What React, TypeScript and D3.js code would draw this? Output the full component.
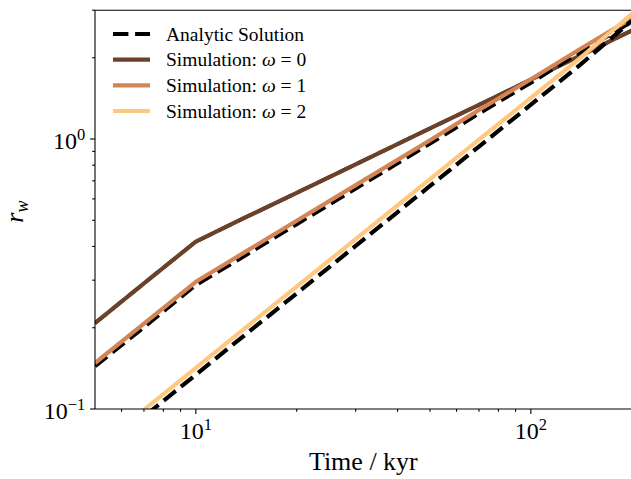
import React from "react";
import * as d3 from "d3";

const W = 631;
const H = 479;

// time in kyr
const times = [5, 7, 10, 14, 20, 30, 50, 70, 100, 140, 200];
// simulated wind-bubble radius r_w
const sim0 = [0.208, 0.292, 0.417, 0.511, 0.632, 0.806, 1.095, 1.338, 1.66, 2.03, 2.52];
const sim1 = [0.148, 0.207, 0.296, 0.381, 0.498, 0.675, 0.99, 1.28, 1.665, 2.15, 2.8];
const sim2 = [0.0709, 0.0993, 0.142, 0.199, 0.284, 0.426, 0.71, 0.994, 1.42, 1.99, 2.9];
// analytic solutions
const ana0 = [0.208, 0.292, 0.417, 0.511, 0.632, 0.806, 1.095, 1.338, 1.66, 2.03, 2.52];
const ana1 = [0.144, 0.201, 0.288, 0.37, 0.484, 0.656, 0.962, 1.244, 1.618, 2.09, 2.72];
const ana2 = [0.0669, 0.0937, 0.134, 0.188, 0.268, 0.402, 0.67, 0.938, 1.34, 1.878, 2.74];

const omegas = [0, 1, 2];
const colors = ["#6a422a", "#d48555", "#ffc77f"];
const xMajor = [10, 100];
const xMajorExp = ["1", "2"];
const xMinor = [6, 7, 8, 9, 20, 30, 40, 50, 60, 70, 80, 90, 200];
const yMajor = [0.1, 1];
const yMajorExp = ["\u22121", "0"];
const yMinor = [0.2, 0.3, 0.4, 0.5, 0.6, 0.7, 0.8, 0.9, 2, 3];
const xLabel = "Time / kyr";
const legendAnalytic = "Analytic Solution";
const legendSim = "Simulation: ";

const FONT = "'Liberation Serif', 'Times New Roman', serif";

export default function App() {
  const left = 95;
  const right = 631.7;
  const top = 10.2;
  const bottom = 409;

  const x = d3.scaleLog().domain([5, 200]).range([left, right]);
  const y = d3.scaleLog().domain([0.1, 3]).range([bottom, top]);

  const line = d3
    .line<number>()
    .x((_, i) => x(times[i]))
    .y((d) => y(d));

  const sims = [sim0, sim1, sim2];
  const anas = [ana0, ana1, ana2];

  const lw = 4.17;
  const dash = "15.4 6.7";
  const tickW = 1.1;
  const majLen = 4.9;
  const minLen = 2.8;

  const legendRows = [34, 59.7, 85.3, 111];

  return (
    <svg
      width={W}
      height={H}
      style={{ position: "absolute", left: 0, top: 0, background: "#fff" }}
      fontFamily={FONT}
    >
      <defs>
        <clipPath id="plot">
          <rect x={left} y={top} width={right - left} height={bottom - top} />
        </clipPath>
      </defs>
      <rect x={0} y={0} width={W} height={H} fill="#fff" />

      <g clipPath="url(#plot)">
        {omegas.map((o, i) => (
          <g key={o}>
            <path
              d={line(anas[i]) || ""}
              fill="none"
              stroke="#000"
              strokeWidth={i === 0 ? lw - 0.6 : lw}
              strokeDasharray={dash}
            />
            <path
              d={line(sims[i]) || ""}
              fill="none"
              stroke={colors[i]}
              strokeWidth={lw}
              strokeLinejoin="round"
            />
          </g>
        ))}
      </g>

      {/* spines */}
      <line x1={left} x2={left} y1={top} y2={bottom} stroke="#000" strokeWidth={tickW} />
      <line x1={left} x2={right} y1={bottom} y2={bottom} stroke="#000" strokeWidth={tickW} />
      <line x1={left} x2={right} y1={top} y2={top} stroke="#000" strokeWidth={tickW} />

      {/* x ticks */}
      {xMinor.map((t) => (
        <line key={"xm" + t} x1={x(t)} x2={x(t)} y1={bottom} y2={bottom + minLen} stroke="#000" strokeWidth={tickW} />
      ))}
      {xMajor.map((t, i) => (
        <g key={"xM" + t}>
          <line x1={x(t)} x2={x(t)} y1={bottom} y2={bottom + majLen} stroke="#000" strokeWidth={tickW} />
          <text x={x(t)} y={439} textAnchor="middle" fontSize={24} fill="#000">
            10
            <tspan dy={-9} fontSize={16.5}>
              {xMajorExp[i]}
            </tspan>
          </text>
        </g>
      ))}

      {/* y ticks */}
      {yMinor.map((v) => (
        <line key={"ym" + v} x1={left - minLen} x2={left} y1={y(v)} y2={y(v)} stroke="#000" strokeWidth={tickW} />
      ))}
      {yMajor.map((v, i) => (
        <g key={"yM" + v}>
          <line x1={left - majLen} x2={left} y1={y(v)} y2={y(v)} stroke="#000" strokeWidth={tickW} />
          <text x={left - majLen - 4.9} y={y(v) + 9.5} textAnchor="end" fontSize={24} fill="#000">
            10
            <tspan dy={-9} fontSize={16.5}>
              {yMajorExp[i]}
            </tspan>
          </text>
        </g>
      ))}

      {/* axis labels */}
      <text x={(left + right) / 2} y={470} textAnchor="middle" fontSize={26} fill="#000">
        {xLabel}
      </text>
      <text
        transform={`translate(23,${(top + bottom) / 2 + 2}) rotate(-90)`}
        textAnchor="middle"
        fontSize={26}
        fontStyle="italic"
        fill="#000"
      >
        r
        <tspan dy={5} fontSize={18}>
          w
        </tspan>
      </text>

      {/* legend */}
      <g>
        <line x1={113} x2={150} y1={legendRows[0]} y2={legendRows[0]} stroke="#000" strokeWidth={lw} strokeDasharray={dash} />
        <text x={166} y={legendRows[0] + 6.7} fontSize={19.5} fill="#000">
          {legendAnalytic}
        </text>
        {omegas.map((o, i) => (
          <g key={"lg" + o}>
            <line x1={113} x2={150} y1={legendRows[i + 1]} y2={legendRows[i + 1]} stroke={colors[i]} strokeWidth={lw} />
            <text x={166} y={legendRows[i + 1] + 6.7} fontSize={19.5} fill="#000">
              {legendSim}
              <tspan fontStyle="italic">ω</tspan>
              {" = " + o}
            </text>
          </g>
        ))}
      </g>
    </svg>
  );
}
